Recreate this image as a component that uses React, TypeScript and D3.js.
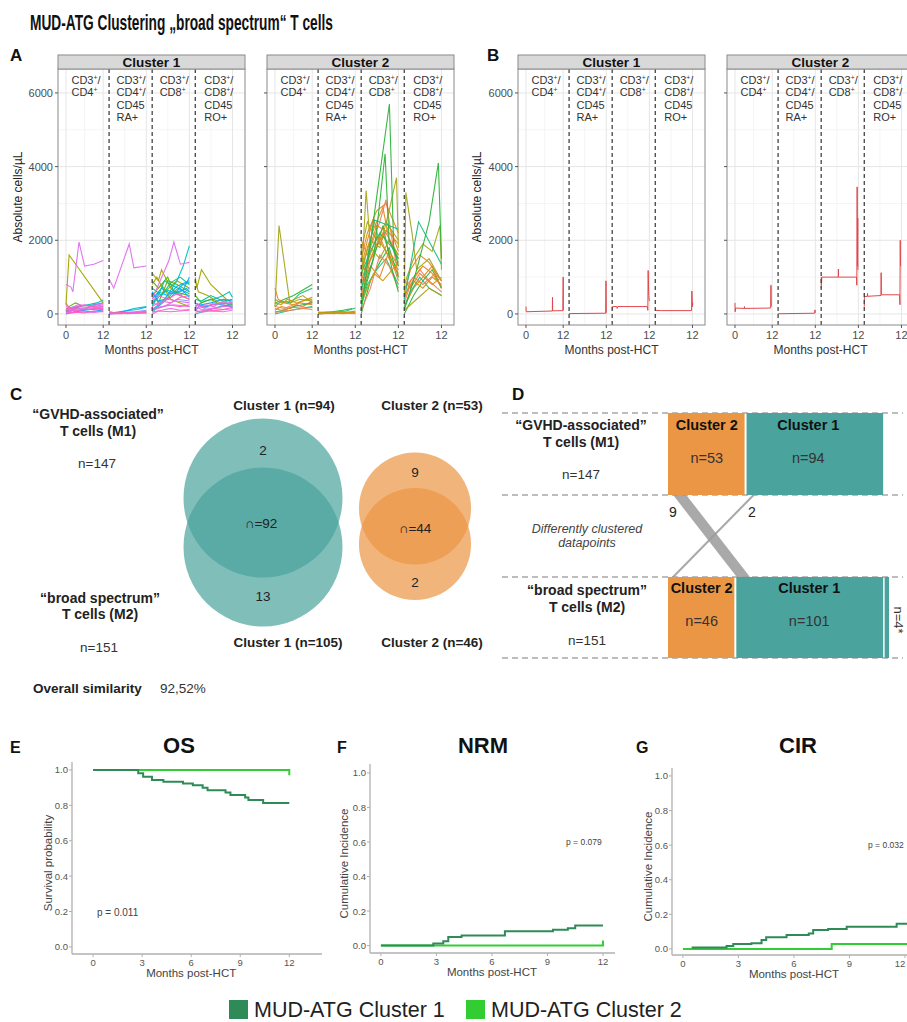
import React from "react";
import * as d3 from "d3";

type Pt = [number, number];
type Traj = [string, Pt[]];

const FONT = "'Liberation Sans', Arial, Helvetica, sans-serif";

// ---------------- Text content ----------------
const figureTitle = "MUD-ATG Clustering \u201Ebroad spectrum\u201C T cells";
const clusterNames = ["Cluster 1", "Cluster 2"];
const segmentLabels = [
  ["CD3^+/", "CD4^+"],
  ["CD3^+/", "CD4^+/", "CD45", "RA+"],
  ["CD3^+/", "CD8^+"],
  ["CD3^+/", "CD8^+/", "CD45", "RO+"],
];
const yTicksCells = [0, 2000, 4000, 6000];
const yMinorCells = [1000, 3000, 5000];
const xTickLabelsCells = ["0", "12", "12", "12", "12"];

// ---------------- Panel A: individual trajectories ----------------
const trajColors: Record<string, string> = {
  P: "#FF61C3", M: "#E06EF0", C: "#00BFC4", S: "#00A9FF", B: "#7B9BFF",
  O: "#A3A500", G: "#53B400", Q: "#00C094",
  R: "#E4881E", L: "#A6A41A", N: "#2DB43A", T: "#19BE7C", A: "#F47D5B", K: "#C99A0C",
};

const c1CD4: Traj[] = [
  ["C", [[0, 50], [2, 150], [4, 200], [7, 250], [10, 300], [12, 380]]],
  ["S", [[0, 100], [1, 80], [3, 150], [6, 120], [9, 250], [12, 300]]],
  ["G", [[0, 80], [1, 200], [3, 300], [4.5, 250]]],
  ["O", [[0, 300], [1, 150], [2.5, 100], [5, 250]]],
  ["B", [[0, 30], [2, 80], [5, 100], [9, 150], [12, 200]]],
  ["Q", [[0, 120], [2, 180], [5, 220], [10, 250]]],
  ["C", [[0, 0], [3, 60], [6, 110], [12, 140]]],
  ["S", [[0, 60], [2, 40], [5, 90], [8, 60], [12, 110]]],
  ["P", [[0, 150], [1, 100], [3, 200], [6, 180], [9, 200], [12, 250]]],
  ["P", [[0, 0], [2, 100], [5, 120], [8, 200], [12, 180]]],
  ["M", [[0, 200], [1, 150], [4, 250], [8, 220], [12, 280]]],
  ["P", [[0, 100], [1, 150], [3, 80], [7, 130], [12, 150]]],
  ["P", [[0, 250], [1, 200], [2, 120], [6, 250], [12, 100]]],
  ["M", [[0, 50], [2, 30], [5, 60], [9, 40], [12, 70]]],
  ["P", [[0, 20], [3, 50], [6, 30], [9, 80], [12, 60]]],
  ["M", [[0, 120], [2, 90], [4, 160], [7, 120], [10, 180], [12, 220]]],
  ["O", [[0, 250], [1, 1600], [12, 300]]],
  ["M", [[0, 800], [1.6, 730], [2.2, 600], [4.2, 1950], [6, 1300], [9, 1350], [12, 1450]]],
];
const c1RA: Traj[] = [
  ["C", [[0, 0], [4, 50], [8, 150], [12, 200]]],
  ["S", [[0, 20], [5, 80], [9, 120], [12, 180]]],
  ["B", [[0, 0], [6, 30], [12, 100]]],
  ["G", [[0, 50], [3, 20], [7, 30], [12, 40]]],
  ["O", [[0, 60], [2, 30], [6, 10], [12, 50]]],
  ["P", [[0, 10], [3, 30], [6, 40], [12, 60]]],
  ["P", [[0, 40], [2, 20], [6, 50], [9, 30], [12, 80]]],
  ["M", [[0, 30], [4, 10], [8, 40], [12, 20]]],
  ["P", [[0, 0], [5, 15], [12, 35]]],
  ["M", [[0, 950], [1.5, 700], [6.5, 1900], [8, 1250], [12, 1300]]],
];
const c1CD8: Traj[] = [
  ["O", [[0, 1100], [2, 900], [3, 1200], [6, 700], [9, 500], [12, 400]]],
  ["O", [[0, 800], [1.5, 1000], [4, 600], [8, 900], [12, 700]]],
  ["G", [[0, 600], [2, 300], [5, 900], [8, 800], [12, 600]]],
  ["Q", [[0, 700], [3, 500], [6, 850], [9, 1000], [12, 800]]],
  ["S", [[0, 200], [2, 600], [5, 500], [8, 750], [12, 900]]],
  ["B", [[0, 100], [3, 300], [6, 600], [9, 500], [12, 700]]],
  ["C", [[0, 50], [2, 200], [4, 350], [7, 600], [10, 800], [12, 850]]],
  ["S", [[0, 400], [3, 700], [6, 550], [10, 650], [12, 1000]]],
  ["G", [[0, 900], [2, 700], [5, 1000], [7, 600], [12, 500]]],
  ["O", [[0, 500], [3, 800], [6, 400], [9, 300], [12, 200]]],
  ["Q", [[0, 300], [2, 500], [4, 900], [7, 750], [12, 550]]],
  ["B", [[0, 150], [4, 200], [8, 400], [12, 350]]],
  ["C", [[0, 250], [2, 450], [5, 650], [8, 550], [11, 700], [12, 600]]],
  ["S", [[0, 600], [2, 350], [6, 450], [9, 700], [12, 450]]],
  ["C", [[0, 100], [4, 400], [8, 900], [10, 1300], [12, 1850]]],
  ["P", [[0, 200], [3, 350], [6, 300], [9, 450], [12, 500]]],
  ["M", [[0, 300], [2, 250], [5, 400], [8, 350], [12, 300]]],
  ["P", [[0, 100], [2, 150], [5, 250], [9, 200], [12, 250]]],
  ["M", [[0, 50], [3, 100], [6, 150], [9, 100], [12, 120]]],
  ["P", [[0, 0], [2, 80], [6, 60], [12, 100]]],
  ["P", [[0, 350], [2, 500], [5, 400], [8, 550], [12, 400]]],
  ["M", [[0, 150], [3, 200], [7, 250], [12, 200]]],
  ["M", [[0, 400], [5.4, 1450], [7, 1950], [9.1, 1350], [12, 1400]]],
];
const c1RO: Traj[] = [
  ["O", [[0, 1000], [0.5, 700], [2, 1200], [5, 800], [10, 400], [12, 300]]],
  ["O", [[0, 900], [1, 600], [4, 500], [8, 300], [12, 250]]],
  ["C", [[0, 200], [3, 350], [6, 400], [9, 500], [11, 600], [12, 450]]],
  ["S", [[0, 100], [2, 250], [5, 300], [9, 400], [12, 350]]],
  ["G", [[0, 500], [2, 300], [5, 400], [8, 250], [12, 200]]],
  ["B", [[0, 250], [3, 150], [6, 300], [9, 250], [12, 200]]],
  ["Q", [[0, 400], [2, 350], [5, 500], [9, 350], [12, 400]]],
  ["C", [[0, 0], [4, 100], [8, 200], [12, 250]]],
  ["S", [[0, 300], [3, 200], [6, 250], [10, 300], [12, 150]]],
  ["P", [[0, 300], [2, 200], [5, 250], [9, 300], [12, 280]]],
  ["M", [[0, 150], [3, 250], [6, 200], [9, 350], [12, 300]]],
  ["P", [[0, 50], [3, 100], [6, 150], [9, 120], [12, 180]]],
  ["M", [[0, 100], [2, 50], [5, 80], [9, 60], [12, 100]]],
  ["P", [[0, 200], [2, 120], [6, 90], [12, 140]]],
  ["M", [[0, 250], [2, 180], [5, 150], [9, 200], [12, 220]]],
];

const c2CD4: Traj[] = [
  ["N", [[0, 300], [3, 400], [6, 500], [9, 650], [12, 800]]],
  ["T", [[0, 200], [2, 350], [5, 300], [8, 550], [12, 700]]],
  ["R", [[0, 700], [1, 400], [3, 300], [6, 250], [9, 350], [12, 400]]],
  ["R", [[0, 100], [2, 200], [5, 150], [8, 300], [12, 250]]],
  ["A", [[0, 200], [3, 150], [6, 250], [9, 200], [12, 350]]],
  ["L", [[0, 400], [2, 300], [5, 350], [9, 500], [12, 300]]],
  ["N", [[0, 50], [3, 100], [6, 200], [9, 250], [12, 300]]],
  ["K", [[0, 300], [2, 250], [4, 400], [7, 300], [12, 450]]],
  ["T", [[0, 0], [4, 80], [8, 150], [12, 200]]],
  ["R", [[0, 150], [2, 100], [6, 180], [12, 120]]],
  ["A", [[0, 50], [3, 80], [7, 120], [12, 180]]],
  ["L", [[0, 200], [1.3, 2400], [4.8, 300], [8, 400], [12, 350]]],
];
const c2RA: Traj[] = [
  ["N", [[0, 30], [4, 50], [8, 100], [11, 150]]],
  ["T", [[0, 0], [5, 40], [9, 80], [12, 160]]],
  ["R", [[0, 10], [4, 20], [8, 10], [12, 30]]],
  ["L", [[0, 50], [3, 30], [7, 60], [12, 40]]],
  ["A", [[0, 0], [6, 20], [12, 10]]],
  ["R", [[0, 20], [5, 10], [12, 60]]],
  ["K", [[0, 40], [4, 60], [9, 30], [12, 80]]],
];
const c2CD8: Traj[] = [
  ["R", [[0, 1500], [2, 2200], [5, 2800], [8, 3000], [10, 2600], [12, 2200]]],
  ["R", [[0, 1000], [2, 1800], [4, 2300], [7, 2900], [9, 2000], [12, 1500]]],
  ["A", [[0, 500], [3, 1800], [6, 2500], [8, 3100], [10, 2000], [12, 1000]]],
  ["R", [[0, 1800], [1, 1200], [4, 1600], [7, 2200], [10, 1400], [12, 900]]],
  ["K", [[0, 900], [2, 1400], [5, 2100], [8, 1700], [12, 1200]]],
  ["N", [[0, 0], [3, 900], [6, 1400], [9, 1800], [12, 1000]]],
  ["T", [[0, 200], [2, 800], [5, 1200], [8, 1500], [12, 800]]],
  ["R", [[0, 700], [3, 1300], [6, 1000], [9, 1700], [12, 1300]]],
  ["L", [[0, 1700], [2, 2500], [5, 2000], [8, 2500], [12, 2000]]],
  ["A", [[0, 100], [3, 700], [6, 1600], [9, 1300], [12, 700]]],
  ["N", [[0, 400], [2, 1000], [5, 1800], [7, 2400], [10, 1200], [12, 600]]],
  ["R", [[0, 2000], [2, 1600], [5, 2400], [9, 2200], [12, 1900]]],
  ["K", [[0, 300], [4, 1100], [7, 900], [12, 1400]]],
  ["R", [[0, 1200], [2, 2000], [4, 2600], [6, 1900], [9, 2400], [12, 1700]]],
  ["A", [[0, 800], [2, 1300], [5, 1900], [8, 2200], [12, 1600]]],
  ["R", [[0, 400], [3, 1500], [6, 2100], [9, 1500], [12, 1100]]],
  ["T", [[0, 1100], [3, 1700], [6, 2200], [10, 1800], [12, 1400]]],
  ["L", [[0, 800], [1.6, 3350], [3, 1800], [6, 1500], [9, 2000], [12, 1600]]],
  ["L", [[0, 1200], [3, 2000], [6, 1800], [9, 2800], [11.4, 3700], [12, 1800]]],
  ["T", [[0, 600], [4.3, 2550], [12, 2300]]],
  ["N", [[0, 300], [4, 1500], [7.7, 4350], [9, 2000], [12, 1500]]],
  ["N", [[0, 100], [9.1, 5700], [10.5, 1800], [12, 1300]]],
];
const c2RO: Traj[] = [
  ["R", [[0, 600], [2, 1200], [5, 1600], [8, 1400], [12, 900]]],
  ["R", [[0, 200], [3, 700], [6, 1000], [9, 1300], [12, 700]]],
  ["A", [[0, 300], [2, 800], [5, 1200], [8, 900], [12, 600]]],
  ["N", [[0, 0], [3, 500], [6, 900], [9, 1200], [12, 700]]],
  ["T", [[0, 200], [2, 600], [5, 1000], [8, 700], [12, 500]]],
  ["K", [[0, 500], [3, 900], [6, 700], [9, 1000], [12, 800]]],
  ["R", [[0, 900], [2, 700], [5, 1100], [9, 800], [12, 1000]]],
  ["L", [[0, 100], [4, 400], [8, 700], [12, 500]]],
  ["R", [[0, 400], [2, 900], [6, 1300], [9, 1100], [12, 750]]],
  ["A", [[0, 700], [3, 1000], [6, 800], [10, 1100], [12, 900]]],
  ["L", [[0, 800], [3, 1500], [6, 1900], [9, 1700], [11.5, 2400], [12, 1200]]],
  ["L", [[0, 300], [0.5, 3300], [2.5, 2200], [4, 1200], [8, 1500], [12, 900]]],
  ["T", [[0, 400], [4.6, 2500], [12, 1350]]],
  ["N", [[0, 100], [4, 1200], [8, 2500], [11, 4100], [12, 1500]]],
];

const clusterTraj: Traj[][][] = [
  [c1CD4, c1RA, c1CD8, c1RO],
  [c2CD4, c2RA, c2CD8, c2RO],
];

// ---------------- Panel B: mean trajectories ----------------
const b1CD4: Pt[] = [[0, 200], [0.05, 60], [8.5, 80], [8.55, 450], [8.6, 85], [11.9, 90], [12, 1000], [12.05, 100]];
const b1RA: Pt[] = [[0, 10], [11.8, 20], [11.9, 900], [12, 30]];
const b1CD8: Pt[] = [[0, 120], [0.05, 200], [1.5, 200], [1.6, 150], [1.8, 200], [11.3, 200], [11.5, 100], [11.6, 1180], [11.8, 500], [12, 350]];
const b1RO: Pt[] = [[0, 130], [0.1, 100], [2, 90], [11.7, 90], [11.8, 620], [12, 200], [12.1, 300]];
const b2CD4: Pt[] = [[0, 300], [0.05, 60], [0.2, 160], [3, 150], [3.05, 200], [3.1, 150], [11.5, 160], [11.6, 780], [11.7, 200]];
const b2RA: Pt[] = [[0, 5], [11.8, 20], [11.9, 110], [12, 30]];
const b2CD8: Pt[] = [[0, 700], [0.05, 1000], [0.1, 800], [0.2, 1000], [5.5, 1000], [5.55, 1220], [5.6, 1000], [11.4, 1000], [11.5, 780], [11.6, 3450], [11.7, 1300], [11.8, 2600], [11.85, 1200]];
const b2RO: Pt[] = [[0, 200], [0.05, 560], [0.1, 470], [1, 480], [1.05, 560], [1.1, 480], [5.4, 500], [5.45, 1120], [5.5, 520], [11.4, 520], [11.5, 250], [11.6, 2000], [11.7, 1300]];
const clusterMeans: Pt[][][] = [
  [b1CD4, b1RA, b1CD8, b1RO],
  [b2CD4, b2RA, b2CD8, b2RO],
];

// ---------------- Panel C / D ----------------
const vennHeaderM1 = ["Cluster 1 (n=94)", "Cluster 2 (n=53)"];
const vennHeaderM2 = ["Cluster 1 (n=105)", "Cluster 2 (n=46)"];
const vennSizes = [[94, 105], [53, 46]];
const vennOnlyM1 = [2, 9];
const vennOverlap = [92, 44];
const vennOnlyM2 = [13, 2];
const overallSimilarity = "92,52%";
const m1Counts = [53, 94]; // Cluster 2, Cluster 1
const m2Counts = [46, 101, 4]; // Cluster 2, Cluster 1, n=4*
const switchCounts = [9, 2];

// ---------------- Panels E–G ----------------
const kmTicksX = [0, 3, 6, 9, 12];
const kmTicksY = [0, 0.2, 0.4, 0.6, 0.8, 1.0];
const osC1: Pt[] = [[0, 1], [2.76, 0.981], [3.06, 0.962], [3.6, 0.943], [4.3, 0.933], [5.5, 0.924], [6.1, 0.914], [6.7, 0.9], [7.0, 0.885], [8.1, 0.872], [8.4, 0.858], [9.3, 0.845], [9.5, 0.83], [10.4, 0.813], [12, 0.813]];
const osC2: Pt[] = [[0, 1], [11.95, 1], [12, 0.97]];
const nrmC1: Pt[] = [[0, 0], [2.83, 0.012], [3.37, 0.025], [3.64, 0.05], [4.36, 0.058], [6.7, 0.083], [9.3, 0.092], [10.1, 0.1], [10.5, 0.116], [12, 0.116]];
const nrmC2: Pt[] = [[0, 0], [11.95, 0], [12, 0.03]];
const cirC1: Pt[] = [[0.47, 0.008], [2.36, 0.017], [2.72, 0.029], [3.7, 0.033], [4.25, 0.052], [4.5, 0.067], [5.6, 0.081], [6.8, 0.09], [7.04, 0.11], [7.85, 0.116], [8.85, 0.129], [11.55, 0.145], [12.3, 0.145]];
const cirC2: Pt[] = [[0, 0], [8.04, 0.029], [12.3, 0.029]];
const legendLabels = ["MUD-ATG Cluster 1", "MUD-ATG Cluster 2"];
const legendColors = ["#2E8B57", "#32CD32"];

// ---------------- Helpers ----------------
function SupText({ x, y, s, fs, fill }: { x: number; y: number; s: string; fs: number; fill: string }) {
  const parts = s.split("^+");
  const kids: React.ReactNode[] = [];
  parts.forEach((p, i) => {
    if (i === 0) kids.push(<tspan key={"p" + i}>{p}</tspan>);
    else {
      kids.push(<tspan key={"s" + i} dy={-4} fontSize={fs * 0.62}>+</tspan>);
      kids.push(<tspan key={"p" + i} dy={4}>{p}</tspan>);
    }
  });
  return <text x={x} y={y} fontSize={fs} fill={fill}>{kids}</text>;
}

const D = 13.9;
const labelOffsets = [5.5, 7.5, 7.5, 9];

function CellFacet({ x0, name, trajs, means, showYLabels }: { x0: number; name: string; trajs?: Traj[][]; means?: Pt[][]; showYLabels: boolean }) {
  const pw = 187, top = 69, bottom = 325;
  const x = d3.scaleLinear().domain([-2.58, 57.74]).range([x0, x0 + pw]);
  const y = d3.scaleLinear().domain([-300, 6650]).range([bottom, top]);
  const tickVals = [0, 12, D + 12, 2 * D + 12, 3 * D + 12];
  const minorX = tickVals.slice(1).map((v, i) => (v + tickVals[i]) / 2);
  const line = d3.line<Pt>().x((d) => x(d[0])).y((d) => y(d[1]));
  return (
    <g>
      <rect x={x0} y={top} width={pw} height={bottom - top} fill="#fff" />
      {yMinorCells.map((v) => <line key={"ym" + v} x1={x0} x2={x0 + pw} y1={y(v)} y2={y(v)} stroke="#f3f3f3" strokeWidth={0.8} />)}
      {minorX.map((v) => <line key={"xm" + v} x1={x(v)} x2={x(v)} y1={top} y2={bottom} stroke="#f3f3f3" strokeWidth={0.8} />)}
      {yTicksCells.map((v) => <line key={"yg" + v} x1={x0} x2={x0 + pw} y1={y(v)} y2={y(v)} stroke="#e6e6e6" strokeWidth={1} />)}
      {tickVals.map((v, i) => <line key={"xg" + i} x1={x(v)} x2={x(v)} y1={top} y2={bottom} stroke="#e6e6e6" strokeWidth={1} />)}
      {trajs && trajs.map((seg, k) => seg.map((tr, j) => (
        <path key={`t${k}-${j}`} d={line(tr[1].map(([t, v]) => [k * D + t, v] as Pt)) || ""} fill="none" stroke={trajColors[tr[0]]} strokeWidth={1.1} strokeOpacity={0.95} />
      )))}
      {means && means.map((seg, k) => (
        <path key={`m${k}`} d={line(seg.map(([t, v]) => [k * D + t, v] as Pt)) || ""} fill="none" stroke="#E0474C" strokeWidth={1} />
      ))}
      {[1, 2, 3].map((k) => <line key={"sep" + k} x1={x(k * D)} x2={x(k * D)} y1={top} y2={bottom} stroke="#444" strokeWidth={1.3} strokeDasharray="4,3" />)}
      {segmentLabels.map((lines, k) => lines.map((s, j) => (
        <SupText key={`l${k}-${j}`} x={x(k * D) + labelOffsets[k]} y={84 + j * 12.4} s={s} fs={11} fill="#333" />
      )))}
      <rect x={x0} y={top} width={pw} height={bottom - top} fill="none" stroke="#8a8a8a" strokeWidth={1} />
      <rect x={x0} y={55} width={pw} height={14} fill="#d9d9d9" stroke="#8a8a8a" strokeWidth={1} />
      <text x={x0 + pw / 2} y={66.5} textAnchor="middle" fontWeight="bold" fontSize={13.5} fill="#111">{name}</text>
      {yTicksCells.map((v) => <line key={"yt" + v} x1={x0 - 3} x2={x0} y1={y(v)} y2={y(v)} stroke="#555" />)}
      {showYLabels && yTicksCells.map((v) => <text key={"yl" + v} x={x0 - 5} y={y(v) + 4} textAnchor="end" fontSize={11} fill="#4d4d4d">{v}</text>)}
      {tickVals.map((v, i) => <line key={"xt" + i} x1={x(v)} x2={x(v)} y1={bottom} y2={bottom + 3} stroke="#555" />)}
      {tickVals.map((v, i) => <text key={"xl" + i} x={x(v)} y={339} textAnchor="middle" fontSize={11} fill="#4d4d4d">{xTickLabelsCells[i]}</text>)}
    </g>
  );
}

function KMPanel({ xs, ys, curves, letter, letterX, title, titleX, yTitle, yTitleX, pText, pX, pY, pSize }: {
  xs: d3.ScaleLinear<number, number>; ys: d3.ScaleLinear<number, number>; curves: [Pt[], string][];
  letter: string; letterX: number; title: string; titleX: number; yTitle: string; yTitleX: number; pText: string; pX: number; pY: number; pSize: number;
}) {
  const [x0, x1] = xs.range();
  const [yb, yt] = ys.range();
  const line = d3.line<Pt>().x((d) => xs(d[0])).y((d) => ys(d[1])).curve(d3.curveStepAfter);
  const fmt = d3.format(".1f");
  const yMid = (yb + yt) / 2 + 5;
  return (
    <g>
      <text x={letterX} y={753} fontWeight="bold" fontSize={16} fill="#111">{letter}</text>
      <text x={titleX} y={753} textAnchor="middle" fontWeight="bold" fontSize={22} fill="#111">{title}</text>
      <line x1={x0} x2={x0} y1={yt} y2={yb} stroke="#b0b0b0" strokeWidth={1.3} />
      <line x1={x0} x2={x1} y1={yb} y2={yb} stroke="#b0b0b0" strokeWidth={1.3} />
      {kmTicksY.map((v) => (
        <g key={"y" + v}>
          <line x1={x0 - 3} x2={x0} y1={ys(v)} y2={ys(v)} stroke="#b0b0b0" />
          <text x={x0 - 4} y={ys(v) + 3.5} textAnchor="end" fontSize={9.5} fill="#555">{fmt(v)}</text>
        </g>
      ))}
      {kmTicksX.map((v) => (
        <g key={"x" + v}>
          <line x1={xs(v)} x2={xs(v)} y1={yb} y2={yb + 3} stroke="#b0b0b0" />
          <text x={Math.min(xs(v), 900)} y={yb + 11.5} textAnchor="middle" fontSize={9.5} fill="#555">{v}</text>
        </g>
      ))}
      <text x={(xs(0) + xs(12)) / 2} y={yb + 23} textAnchor="middle" fontSize={11.5} fill="#444">Months post-HCT</text>
      <text transform={`translate(${yTitleX},${yMid}) rotate(-90)`} textAnchor="middle" fontSize={11.5} fill="#444">{yTitle}</text>
      {curves.map(([pts, col], i) => <path key={"c" + i} d={line(pts) || ""} fill="none" stroke={col} strokeWidth={2} />)}
      <text x={pX} y={pY} fontSize={pSize} fill="#444">{pText}</text>
    </g>
  );
}

export default function App() {
  const teal = "#4aa39d", orange = "#eb9644";
  const vennR = d3.scaleSqrt().domain([0, 99.5]).range([0, 79.5]);
  const vennCx = [263, 415];
  const vennCy = [[498, 547], [508.5, 544]];
  const vennCols = [teal, orange];

  const xD = d3.scaleLinear().domain([0, 151]).range([668, 889]);
  const gap = 1;

  const xE = d3.scaleLinear().domain([-1.29, 14.0]).range([72, 322]);
  const yE = d3.scaleLinear().domain([-0.04, 1.045]).range([954, 762]);
  const xF = d3.scaleLinear().domain([-0.59, 12.65]).range([370, 615]);
  const yF = d3.scaleLinear().domain([-0.043, 1.052]).range([953, 764]);
  const xG = d3.scaleLinear().domain([-0.59, 12.65]).range([672, 917]);
  const yG = d3.scaleLinear().domain([-0.035, 1.046]).range([955, 768]);

  const band = (t0: number, t1: number, b0: number, b1: number) =>
    `M${xD(t0)},495 L${xD(t1)},495 L${xD(b1)},577 L${xD(b0)},577 Z`;

  return (
    <svg width={907} height={1022} style={{ position: "absolute", left: 0, top: 0, background: "#fff" }} fontFamily={FONT}>
      <rect width={907} height={1022} fill="#fff" />
      <text x={30} y={30} fontFamily="'Liberation Sans Narrow', 'Arial Narrow', 'Liberation Sans', sans-serif" fontWeight="bold" fontSize={21.5} textLength={303} lengthAdjust="spacingAndGlyphs" fill="#111">{figureTitle}</text>

      {/* Panel A */}
      <text x={10} y={61} fontWeight="bold" fontSize={17} fill="#111">A</text>
      <text transform="translate(22,197) rotate(-90)" textAnchor="middle" fontSize={12} fill="#222">Absolute cells/µL</text>
      <CellFacet x0={58} name={clusterNames[0]} trajs={clusterTraj[0]} showYLabels={true} />
      <CellFacet x0={267} name={clusterNames[1]} trajs={clusterTraj[1]} showYLabels={false} />
      <text x={151.5} y={354} textAnchor="middle" fontSize={12} fill="#333">Months  post-HCT</text>
      <text x={360.5} y={354} textAnchor="middle" fontSize={12} fill="#333">Months  post-HCT</text>

      {/* Panel B */}
      <text x={487} y={61} fontWeight="bold" fontSize={17} fill="#111">B</text>
      <text transform="translate(481,197) rotate(-90)" textAnchor="middle" fontSize={12} fill="#222">Absolute cells/µL</text>
      <CellFacet x0={518} name={clusterNames[0]} means={clusterMeans[0]} showYLabels={true} />
      <CellFacet x0={727} name={clusterNames[1]} means={clusterMeans[1]} showYLabels={false} />
      <text x={611.5} y={354} textAnchor="middle" fontSize={12} fill="#333">Months  post-HCT</text>
      <text x={820.5} y={354} textAnchor="middle" fontSize={12} fill="#333">Months  post-HCT</text>

      {/* Panel C */}
      <text x={10} y={400} fontWeight="bold" fontSize={17} fill="#111">C</text>
      <g fontSize={14} fill="#222" textAnchor="middle">
        <text x={98} y={419} fontWeight="bold">{"\u201CGVHD-associated\u201D"}</text>
        <text x={98} y={436} fontWeight="bold">T cells (M1)</text>
        <text x={97} y={468} fontSize={13.5} fill="#333">n=147</text>
        <text x={100} y={603} fontWeight="bold">{"\u201Cbroad spectrum\u201D"}</text>
        <text x={100} y={619} fontWeight="bold">T cells (M2)</text>
        <text x={99} y={652} fontSize={13.5} fill="#333">n=151</text>
      </g>
      <text x={33} y={693} fontWeight="bold" fontSize={13.5} fill="#222">Overall similarity</text>
      <text x={160} y={693} fontSize={13.5} fill="#333">{overallSimilarity}</text>
      {vennSizes.map((sz, i) => {
        const r = vennR((sz[0] + sz[1]) / 2);
        return (
          <g key={"venn" + i}>
            <circle cx={vennCx[i]} cy={vennCy[i][0]} r={r} fill={vennCols[i]} fillOpacity={0.7} />
            <circle cx={vennCx[i]} cy={vennCy[i][1]} r={r} fill={vennCols[i]} fillOpacity={0.7} />
          </g>
        );
      })}
      <g fontSize={13.5} fill="#222" textAnchor="middle">
        <text x={284} y={410} fontWeight="bold">{vennHeaderM1[0]}</text>
        <text x={432} y={410} fontWeight="bold">{vennHeaderM1[1]}</text>
        <text x={288} y={647} fontWeight="bold">{vennHeaderM2[0]}</text>
        <text x={432} y={647} fontWeight="bold">{vennHeaderM2[1]}</text>
        <text x={263} y={455}>{vennOnlyM1[0]}</text>
        <text x={261} y={528}>{"\u2229=" + vennOverlap[0]}</text>
        <text x={263} y={601}>{vennOnlyM2[0]}</text>
        <text x={415} y={477}>{vennOnlyM1[1]}</text>
        <text x={415} y={533}>{"\u2229=" + vennOverlap[1]}</text>
        <text x={415} y={587}>{vennOnlyM2[1]}</text>
      </g>

      {/* Panel D */}
      <text x={512} y={400} fontWeight="bold" fontSize={17} fill="#111">D</text>
      {[413, 495, 577, 658].map((yy) => (
        <line key={"dl" + yy} x1={502} x2={903} y1={yy} y2={yy} stroke="#a8a8a8" strokeWidth={1.5} strokeDasharray="6,4" />
      ))}
      <rect x={xD(0)} y={413} width={xD(m1Counts[0]) - xD(0) - gap} height={82} fill={orange} />
      <rect x={xD(m1Counts[0]) + gap} y={413} width={xD(m1Counts[0] + m1Counts[1]) - xD(m1Counts[0]) - gap} height={82} fill={teal} />
      <rect x={xD(0)} y={577} width={xD(m2Counts[0]) - xD(0) - gap} height={81} fill={orange} />
      <rect x={xD(m2Counts[0]) + gap} y={577} width={xD(m2Counts[0] + m2Counts[1]) - xD(m2Counts[0]) - gap} height={81} fill={teal} />
      <rect x={xD(m2Counts[0] + m2Counts[1]) + 1.5} y={577} width={xD(151) - xD(m2Counts[0] + m2Counts[1]) - 1.5} height={81} fill={teal} />
      <path d={band(3.5, 3.5 + switchCounts[0], 47, 47 + switchCounts[0])} fill="#9a9a9a" fillOpacity={0.85} />
      <path d={band(57.5, 57.5 + switchCounts[1], 2.5, 2.5 + switchCounts[1])} fill="#9a9a9a" fillOpacity={0.85} />
      <text x={673} y={517} textAnchor="middle" fontSize={14} fill="#222">{switchCounts[0]}</text>
      <text x={752} y={517} textAnchor="middle" fontSize={14} fill="#222">{switchCounts[1]}</text>
      <g fontSize={14.5} fill="#111" textAnchor="middle">
        <text x={(xD(0) + xD(m1Counts[0])) / 2} y={430} fontWeight="bold">Cluster 2</text>
        <text x={(xD(0) + xD(m1Counts[0])) / 2} y={463} fill="#333">{"n=" + m1Counts[0]}</text>
        <text x={(xD(m1Counts[0]) + xD(m1Counts[0] + m1Counts[1])) / 2 - 6} y={430} fontWeight="bold">Cluster 1</text>
        <text x={(xD(m1Counts[0]) + xD(m1Counts[0] + m1Counts[1])) / 2 - 6} y={463} fill="#333">{"n=" + m1Counts[1]}</text>
        <text x={(xD(0) + xD(m2Counts[0])) / 2} y={593} fontWeight="bold">Cluster 2</text>
        <text x={(xD(0) + xD(m2Counts[0])) / 2} y={626} fill="#333">{"n=" + m2Counts[0]}</text>
        <text x={(xD(m2Counts[0]) + xD(m2Counts[0] + m2Counts[1])) / 2} y={593} fontWeight="bold">Cluster 1</text>
        <text x={(xD(m2Counts[0]) + xD(m2Counts[0] + m2Counts[1])) / 2} y={626} fill="#333">{"n=" + m2Counts[1]}</text>
      </g>
      <text transform="translate(894,620) rotate(90)" textAnchor="middle" fontSize={13} fill="#333">{"n=" + m2Counts[2] + "*"}</text>
      <g fontSize={14} fill="#222" textAnchor="middle">
        <text x={581} y={430} fontWeight="bold">{"\u201CGVHD-associated\u201D"}</text>
        <text x={581} y={447} fontWeight="bold">T cells (M1)</text>
        <text x={581} y={479} fontSize={13.5} fill="#333">n=147</text>
        <text x={587} y={595} fontWeight="bold">{"\u201Cbroad spectrum\u201D"}</text>
        <text x={587} y={612} fontWeight="bold">T cells (M2)</text>
        <text x={587} y={645} fontSize={13.5} fill="#333">n=151</text>
        <text x={587} y={533} fontSize={12.5} fontStyle="italic" fill="#444">Differently clustered</text>
        <text x={587} y={547} fontSize={12.5} fontStyle="italic" fill="#444">datapoints</text>
      </g>

      {/* Panels E, F, G */}
      <KMPanel xs={xE} ys={yE} curves={[[osC2, legendColors[1]], [osC1, legendColors[0]]]} letter="E" letterX={10} title="OS" titleX={179}
        yTitle="Survival probability" yTitleX={52} pText="p = 0.011" pX={97} pY={916} pSize={10} />
      <KMPanel xs={xF} ys={yF} curves={[[nrmC2, legendColors[1]], [nrmC1, legendColors[0]]]} letter="F" letterX={337} title="NRM" titleX={483}
        yTitle="Cumulative Incidence" yTitleX={348} pText="p =  0.079" pX={566} pY={845} pSize={8.5} />
      <KMPanel xs={xG} ys={yG} curves={[[cirC2, legendColors[1]], [cirC1, legendColors[0]]]} letter="G" letterX={636} title="CIR" titleX={798}
        yTitle="Cumulative Incidence" yTitleX={652} pText="p =  0.032" pX={868} pY={848} pSize={8.5} />

      {/* Legend */}
      {legendLabels.map((lab, i) => {
        const lx = [229, 466][i];
        return (
          <g key={"lg" + i}>
            <rect x={lx} y={1000} width={19} height={19} fill={legendColors[i]} />
            <text x={lx + 25} y={1017} fontSize={21.5} fill="#222">{lab}</text>
          </g>
        );
      })}
    </svg>
  );
}
